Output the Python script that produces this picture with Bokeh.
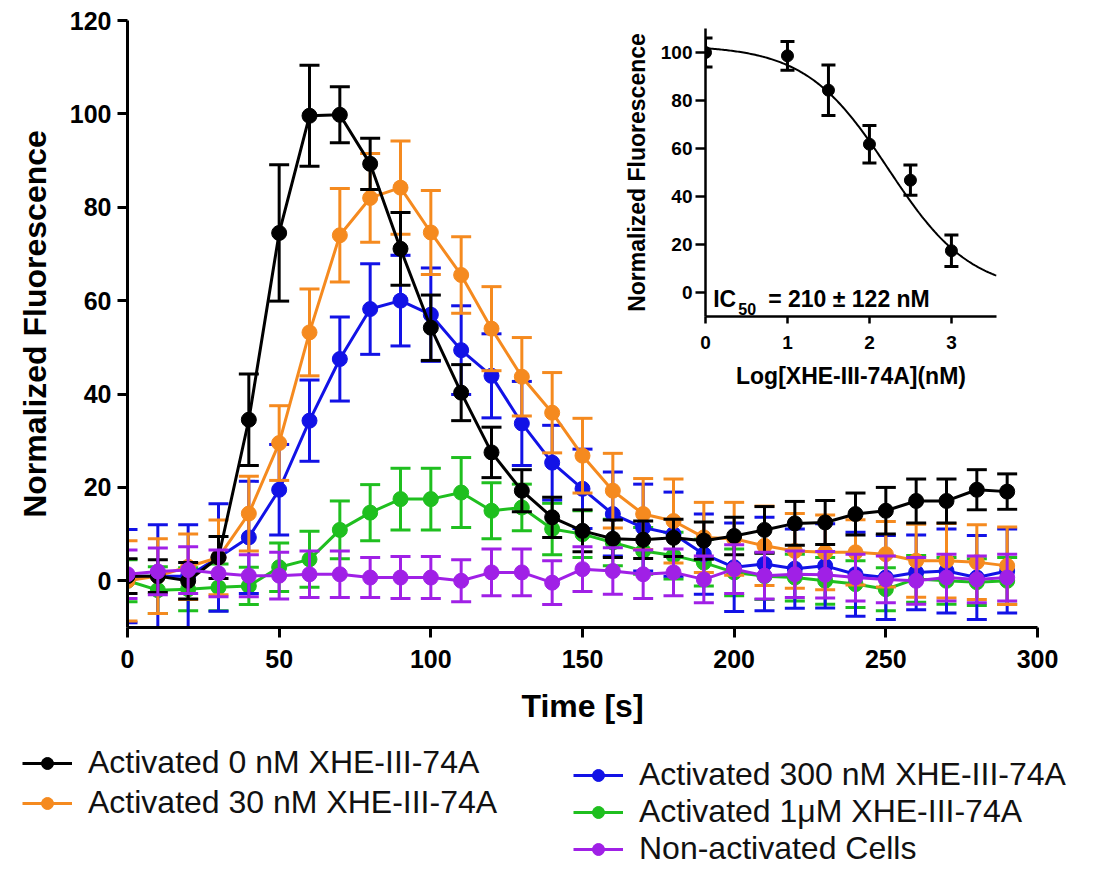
import numpy as np
from bokeh.plotting import figure
from bokeh.models import (Legend, LegendItem, FixedTicker, Range1d, Label)
from bokeh.embed import file_html
from bokeh.resources import INLINE

# ---------------- data (main panel) ----------------
time_s = [0, 10, 20, 30, 40, 50, 60, 70, 80, 90, 100, 110, 120, 130, 140,
          150, 160, 170, 180, 190, 200, 210, 220, 230, 240, 250, 260, 270, 280, 290]

act_0nM = [1, 1, 0, 5, 34.5, 74.5, 99.6, 99.8, 89.3, 71.1, 54.2, 40.3, 27.5, 19.3, 13.6,
           10.7, 9, 8.8, 9.2, 8.6, 9.6, 10.9, 12.3, 12.5, 14.3, 15, 17.1, 17.1, 19.5, 19.1]
act_0nM_err = [3.7, 3.5, 3.9, 4.5, 9.8, 14.6, 10.8, 6, 5.5, 7.8, 7, 6, 5.4, 4.5, 4.3,
               4.5, 4, 4, 4, 4, 4, 5, 4.7, 4.7, 4.5, 5, 4.7, 4.7, 4.3, 3.8]

act_30nM = [0, 1, 3, 5, 14.4, 29.5, 53.2, 74, 82, 84.2, 74.6, 65.5, 54, 43.7, 36,
            26.8, 19.3, 14.3, 12.8, 9.3, 9, 7.5, 6.4, 6.1, 6.1, 5.7, 4.3, 4.3, 4, 3.2]
act_30nM_err = [8.6, 8, 7, 8, 8, 8, 9.3, 10, 9.5, 10, 9, 8.2, 9, 8.4, 8.6,
                8, 8, 7.6, 9, 7.5, 7.8, 8.5, 8, 8, 7, 7, 7.8, 8, 8, 8.3]

act_300nM = [1, 1, 1, 5, 9.3, 19.5, 34.3, 47.5, 58.2, 60, 57, 49.4, 43.9, 33.7, 25.3,
             19.7, 14.3, 11.4, 10, 5.7, 2.9, 3.6, 2.6, 3.2, 1.4, 0.7, 1.8, 2.1, 0.7, 2.1]
act_300nM_err = [10, 11, 11, 11.5, 12, 9.7, 8.7, 9, 9.7, 9.7, 10, 9.5, 9, 9, 8,
                 8.5, 9, 9.3, 9, 8.6, 9.5, 10, 8.5, 9, 9, 9, 8, 9, 9, 9]

act_1uM = [0, -2, -1.8, -1.4, -1.1, 2.9, 4.6, 10.9, 14.6, 17.5, 17.5, 18.9, 15, 15.7, 11.1,
           10, 8.2, 6.4, 5.4, 3.9, 1.8, 1, 0.7, 0, -0.7, -1.8, 0.4, 0, -0.3, 0]
act_1uM_err = [4.5, 5, 4.6, 5, 4, 5.2, 6, 6.2, 6, 6.6, 6.6, 7.5, 6, 5, 5.5,
               5, 5, 5, 5, 5, 5, 5, 5, 5, 5, 4.6, 5, 5, 5, 5]

non_act = [1.4, 2, 2.3, 1.6, 1.1, 1.1, 1.4, 1.4, 0.7, 0.7, 0.7, 0, 1.8, 1.8, -0.4,
           2.5, 2.1, 1.4, 1.8, 0.3, 2.5, 1.1, 1.4, 1.3, 0.7, 0.3, 0, 0.7, 0.3, 0.7]
non_act_err = [5.2, 5, 5, 5, 4.5, 5, 5, 5, 4.3, 4.5, 4.5, 4.5, 5, 5, 4.7,
               4.8, 5, 5.2, 5, 5, 5.2, 5, 5, 5, 5, 5, 5, 5, 5, 5]

series_names = ["Activated 0 nM XHE-III-74A", "Activated 30 nM XHE-III-74A",
                "Activated 300 nM XHE-III-74A", "Activated 1\u03bcM XHE-III-74A",
                "Non-activated Cells"]
series_colors = ["#000000", "#F58A1F", "#1212E6", "#1FBF1F", "#A020E6"]

x_ticks = [0, 50, 100, 150, 200, 250, 300]
y_ticks = [0, 20, 40, 60, 80, 100, 120]

# ---------------- data (inset) ----------------
log_conc = [0, 1, 1.5, 2, 2.5, 3]
inh_mean = [100, 98.6, 84.3, 61.8, 46.8, 17.4]
inh_err = [6, 6, 10.5, 7.8, 6.3, 6.6]
fit_top, fit_bottom, fit_logic50, fit_hill = 103.0, 0.0, 2.23, 0.86
inset_x_ticks = [0, 1, 2, 3]
inset_y_ticks = [0, 20, 40, 60, 80, 100]

FONT = "Liberation Sans"

all_series = [
    (act_0nM, act_0nM_err),
    (act_30nM, act_30nM_err),
    (act_300nM, act_300nM_err),
    (act_1uM, act_1uM_err),
    (non_act, non_act_err),
]

# ---------------- main figure ----------------
p = figure(frame_width=910, frame_height=607, output_backend="svg", toolbar_location=None,
           x_range=Range1d(0, 300), y_range=Range1d(-10, 120))
p.min_border_left = 127
p.min_border_right = 53
p.min_border_top = 20
p.min_border_bottom = 241
p.outline_line_color = None
p.xgrid.visible = False
p.ygrid.visible = False

for ax in (p.xaxis[0], p.yaxis[0]):
    ax.axis_line_width = 3
    ax.axis_line_color = "black"
    ax.major_tick_line_width = 3
    ax.major_tick_out = 10
    ax.major_tick_in = 0
    ax.minor_tick_out = 0
    ax.minor_tick_in = 0
    ax.major_label_text_font = FONT
    ax.major_label_text_font_style = "bold"
    ax.major_label_text_font_size = "25px"
    ax.major_label_text_color = "black"
    ax.axis_label_text_font = FONT
    ax.axis_label_text_font_style = "bold"
    ax.axis_label_text_color = "black"

p.xaxis.ticker = FixedTicker(ticks=x_ticks)
p.yaxis.ticker = FixedTicker(ticks=y_ticks)
p.xaxis.axis_label = "Time [s]"
p.yaxis.axis_label = "Normalized Fluorescence"
p.xaxis.axis_label_text_font_size = "32px"
p.yaxis.axis_label_text_font_size = "32px"
p.xaxis.major_label_standoff = 12
p.yaxis.major_label_standoff = 6
p.xaxis.axis_label_standoff = 17
p.yaxis.axis_label_standoff = 14

draw_order = [3, 2, 1, 0, 4]
for i in draw_order:
    vals, errs = all_series[i]
    col = series_colors[i]
    vals = np.array(vals, dtype=float)
    errs = np.array(errs, dtype=float)
    up = vals + errs
    lo = vals - errs
    p.segment(x0=time_s, y0=lo, x1=time_s, y1=up, line_color=col, line_width=3)
    p.scatter(x=time_s, y=up, marker="dash", size=20, line_color=col, line_width=3)
    p.scatter(x=time_s, y=lo, marker="dash", size=20, line_color=col, line_width=3)
    p.line(x=time_s, y=vals, line_color=col, line_width=3)
    p.scatter(x=time_s, y=vals, marker="circle", size=15, fill_color=col, line_color=col)

# ---------------- legend figure (below the main panel) ----------------
# the series are drawn here only so the legend can show their glyphs; the view
# range keeps the marks themselves out of sight
lg_fig = figure(width=1090, height=133, output_backend="svg", toolbar_location=None,
                x_range=Range1d(1000, 1001), y_range=Range1d(1000, 1001))
lg_fig.min_border = 0
lg_fig.axis.visible = False
lg_fig.grid.visible = False
lg_fig.outline_line_color = None
lg_fig.background_fill_alpha = 0
lg_fig.border_fill_alpha = 0

legend_refs = {}
for i in range(5):
    col = series_colors[i]
    vals = all_series[i][0]
    lr = lg_fig.line(x=time_s, y=vals, line_color=col, line_width=3)
    sr = lg_fig.scatter(x=time_s, y=vals, marker="circle", size=15, fill_color=col, line_color=col)
    legend_refs[i] = (lr, sr)

def make_legend(idx, loc, spacing):
    items = [LegendItem(label=series_names[i], renderers=list(legend_refs[i])) for i in idx]
    lg = Legend(items=items, location=loc, orientation="vertical")
    lg.label_text_font = FONT
    lg.label_text_font_size = "32px"
    lg.label_text_color = "#111111"
    lg.glyph_width = 50
    lg.glyph_height = 30
    lg.label_standoff = 16
    lg.spacing = spacing
    lg.padding = 0
    lg.margin = 0
    lg.border_line_color = None
    lg.background_fill_alpha = 0
    return lg

lg_fig.add_layout(make_legend([0, 1], (22, 47), 3), "center")
lg_fig.add_layout(make_legend([2, 3, 4], (573, 1), 0), "center")

# ---------------- inset figure ----------------
ins = figure(frame_width=291, frame_height=288, output_backend="svg", toolbar_location=None,
             x_range=Range1d(0, 3.55), y_range=Range1d(-10, 110))
ins.min_border_left = 84
ins.min_border_right = 10
ins.min_border_top = 8
ins.min_border_bottom = 80
ins.outline_line_color = None
ins.xgrid.visible = False
ins.ygrid.visible = False
ins.background_fill_alpha = 0
ins.border_fill_alpha = 0

for ax in (ins.xaxis[0], ins.yaxis[0]):
    ax.axis_line_width = 2.5
    ax.major_tick_line_width = 2.5
    ax.major_tick_in = 0
    ax.minor_tick_out = 0
    ax.minor_tick_in = 0
    ax.major_label_text_font = FONT
    ax.major_label_text_font_style = "bold"
    ax.major_label_text_font_size = "19px"
    ax.major_label_text_color = "black"
    ax.axis_label_text_font = FONT
    ax.axis_label_text_font_style = "bold"
    ax.axis_label_text_font_size = "23px"
    ax.axis_label_text_color = "black"
ins.yaxis.major_tick_out = 10
ins.xaxis.major_tick_out = 7
ins.yaxis.major_label_standoff = 3
ins.xaxis.major_label_standoff = 12
ins.xaxis.ticker = FixedTicker(ticks=inset_x_ticks)
ins.yaxis.ticker = FixedTicker(ticks=inset_y_ticks)
ins.xaxis.axis_label = "Log[XHE-III-74A](nM)"
ins.yaxis.axis_label = "Normalized Fluorescence"
ins.xaxis.axis_label_standoff = 11
ins.yaxis.axis_label_standoff = 8

xf = np.linspace(0, 3.55, 200)
yf = fit_bottom + (fit_top - fit_bottom) / (1 + 10 ** (fit_hill * (xf - fit_logic50)))
ins.line(xf, yf, line_color="black", line_width=2)

im = np.array(inh_mean)
ie = np.array(inh_err)
ins.segment(x0=log_conc, y0=im - ie, x1=log_conc, y1=im + ie, line_color="black", line_width=3)
ins.scatter(x=log_conc, y=im + ie, marker="dash", size=14, line_color="black", line_width=3)
ins.scatter(x=log_conc, y=im - ie, marker="dash", size=14, line_color="black", line_width=3)
ins.scatter(x=log_conc, y=inh_mean, marker="circle", size=12, fill_color="black", line_color="black")

ins.add_layout(Label(x=0.094, y=-2.8, text="IC", text_font=FONT, text_font_style="bold",
                     text_font_size="23px", text_baseline="middle", text_color="black"))
ins.add_layout(Label(x=0.40, y=-6.8, text="50", text_font=FONT, text_font_style="bold",
                     text_font_size="16px", text_baseline="middle", text_color="black"))
ins.add_layout(Label(x=0.765, y=-2.8, text="= 210 \u00b1 122 nM", text_font=FONT,
                     text_font_style="bold", text_font_size="23px", text_baseline="middle",
                     text_color="black"))

p.styles = {"position": "absolute", "left": "0px", "top": "0px"}
ins.styles = {"position": "absolute", "left": "620px", "top": "20px"}
lg_fig.styles = {"position": "absolute", "left": "0px", "top": "735px"}

open("out.html", "w").write(file_html([p, ins, lg_fig], INLINE))
